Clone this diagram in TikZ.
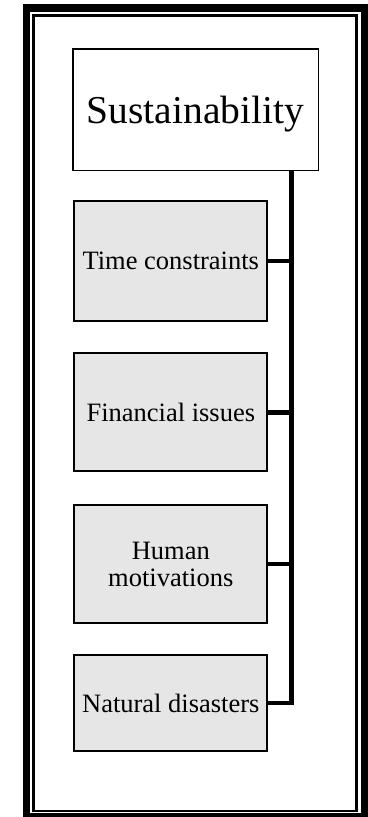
\documentclass[tikz,border=0pt]{standalone}
\usepackage{fontspec}
\setmainfont{Liberation Serif}
\definecolor{boxgray}{HTML}{E6E6E6}
\begin{document}
\begin{tikzpicture}[x=1pt,y=-1pt,
  topbox/.style={draw, line width=1.5pt, fill=white, minimum width=245.5pt, minimum height=121.2pt,
    inner sep=0pt, text depth=0pt, font=\fontsize{39.5}{42}\selectfont},
  subbox/.style={draw, line width=2pt, fill=boxgray, minimum width=193pt, inner sep=0pt,
    align=center, font=\fontsize{26.5}{26.7}\selectfont},
  conn/.style={line width=4.5pt, line join=miter},
  thickframe/.style={line width=7.5pt},
  thinframe/.style={line width=2.4pt}]
\useasboundingbox (0,0) rectangle (367,817);
% double frame
\draw[thickframe] (26.3,7.9) rectangle (364.3,817);
\draw[thinframe] (33.5,15.3) rectangle (356.3,810.7);
% nodes
\node[topbox] (sus) at (195.5,109.7) {Sustainability};
\node[subbox, minimum height=120pt] (time) at (170.8,261) {Time constraints};
\node[subbox, minimum height=118pt] (fin) at (170.8,412.3) {Financial issues};
\node[subbox, minimum height=118pt] (hum) at (170.8,564.2) {Human\\motivations};
\node[subbox, minimum height=96pt] (nat) at (170.8,703) {Natural disasters};
\coordinate (bus) at (291.5,0);
% connectors
\draw[conn] (sus.south -| bus) |- (nat.east);
\draw[conn] (time.east) -- (time.east -| bus);
\draw[conn] (fin.east) -- (fin.east -| bus);
\draw[conn] (hum.east) -- (hum.east -| bus);
\end{tikzpicture}
\end{document}
